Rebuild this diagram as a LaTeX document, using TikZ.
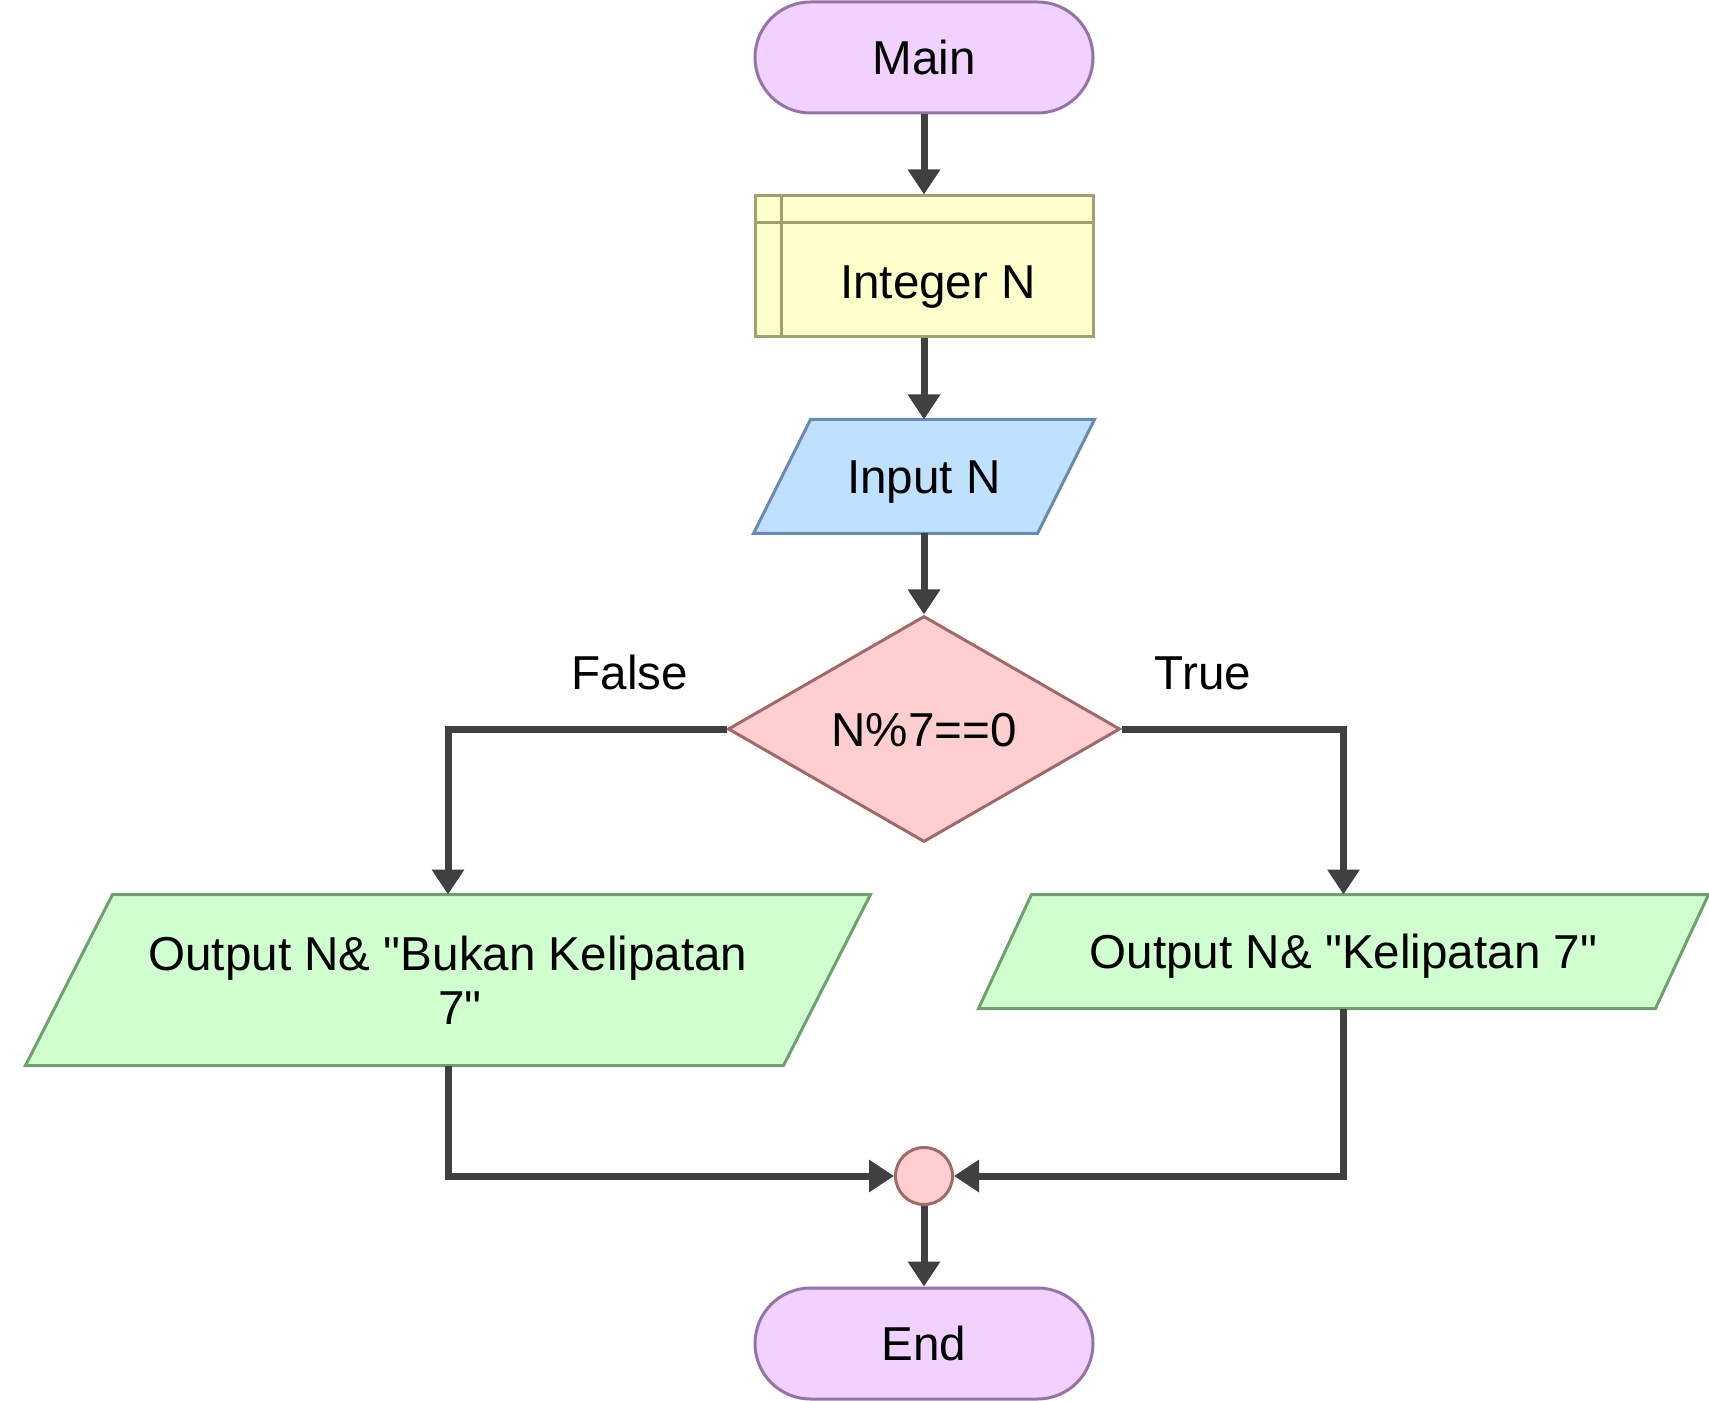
\documentclass[tikz,border=0pt]{standalone}
\usepackage{fontspec}
\setmainfont{Liberation Sans}[Ligatures=TeXOff]
\usetikzlibrary{shapes.geometric,arrows.meta,calc,backgrounds}
\definecolor{termfill}{HTML}{F0D1FF}
\definecolor{termdraw}{HTML}{9673A6}
\definecolor{yfill}{HTML}{FFFFCC}
\definecolor{ydraw}{HTML}{A0A070}
\definecolor{bfill}{HTML}{C0E0FF}
\definecolor{bdraw}{HTML}{6A8BAF}
\definecolor{rfill}{HTML}{FFCFCF}
\definecolor{rdraw}{HTML}{A06A6A}
\definecolor{gfill}{HTML}{D0FFD0}
\definecolor{gdraw}{HTML}{70A070}
\definecolor{conn}{HTML}{404040}
\tikzset{
  base/.style={line width=1.5pt, inner sep=0pt, font=\fontsize{23.8}{27}\selectfont, align=center},
  one/.style={text height=17.1pt, text depth=0pt},
  term/.style={base, one, rectangle, rounded corners=27.75pt, fill=termfill, draw=termdraw, minimum width=169pt, minimum height=55.5pt},
  ybox/.style={base, rectangle, fill=yfill, draw=ydraw, minimum width=169pt, minimum height=70.5pt},
  parabox/.style={base, rectangle, draw=none},
  decide/.style={base, one, diamond, fill=rfill, draw=rdraw, minimum width=196pt, minimum height=113pt},
  junction/.style={base, circle, fill=rfill, draw=rdraw, minimum size=28.5pt},
  txt/.style={inner sep=0pt, font=\fontsize{23.8}{27}\selectfont, align=center, one},
  flow/.style={line width=3.5pt, draw=conn, -{Triangle[length=12.5pt,width=15.5pt]}}
}
\newcommand\para[4]{% node, slant, fill, draw
  \path[fill=#3, draw=#4, line width=1.5pt, line join=miter]
    (#1.south west) -- ($(#1.south east)+(-#2,0)$) -- (#1.north east) -- ($(#1.north west)+(#2,0)$) -- cycle;}
\begin{document}
\begin{tikzpicture}[x=0.5pt,y=-0.5pt]
\useasboundingbox (0,0) rectangle (1709,1401);

\node[term] (main) at (924,57.5) {Main};
\node[ybox] (int) at (924,266.5) {};
\draw[line width=1.5pt, draw=ydraw] ($(int.north west)+(0,-14pt)$) -- ($(int.north east)+(0,-14pt)$);
\draw[line width=1.5pt, draw=ydraw] ($(int.north west)+(14pt,0)$) -- ($(int.south west)+(14pt,0)$);
\node[txt] (inttxt) at (938,281) {Integer N};
\node[parabox, one, minimum width=169pt, minimum height=55.5pt] (inp) at (924,476.5) {Input N};
\node[decide] (dia) at (924,729) {N\%7==0};
\node[parabox, minimum width=421pt, minimum height=84pt] (outl) at (448,980) {Output N\& "Bukan Kelipatan\\\hspace*{12pt}7"};
\node[parabox, one, minimum width=363.5pt, minimum height=55.5pt] (outr) at (1343.5,951.5) {Output N\& "Kelipatan 7"};
\node[junction] (join) at (924,1176) {};
\node[term] (end) at (924,1343.5) {End};

\begin{pgfonlayer}{background}
\fill[white] (0,0) rectangle (1709,1401);
\para{inp}{28.5pt}{bfill}{bdraw}
\para{outl}{43.5pt}{gfill}{gdraw}
\para{outr}{26.5pt}{gfill}{gdraw}
\end{pgfonlayer}

\node[txt] (flbl) at (630,672) {False};
\node[txt] (tlbl) at (1203,672) {True};

\draw[flow] (main.south) -- (int.north);
\draw[flow] (int.south) -- (inp.north);
\draw[flow] (inp.south) -- (dia.north);
\draw[flow] (dia.west) -| (outl.north);
\draw[flow] (dia.east) -| (outr.north);
\draw[flow] (outl.south) |- (join.west);
\draw[flow] (outr.south) |- (join.east);
\draw[flow] (join.south) -- (end.north);
\end{tikzpicture}
\end{document}
